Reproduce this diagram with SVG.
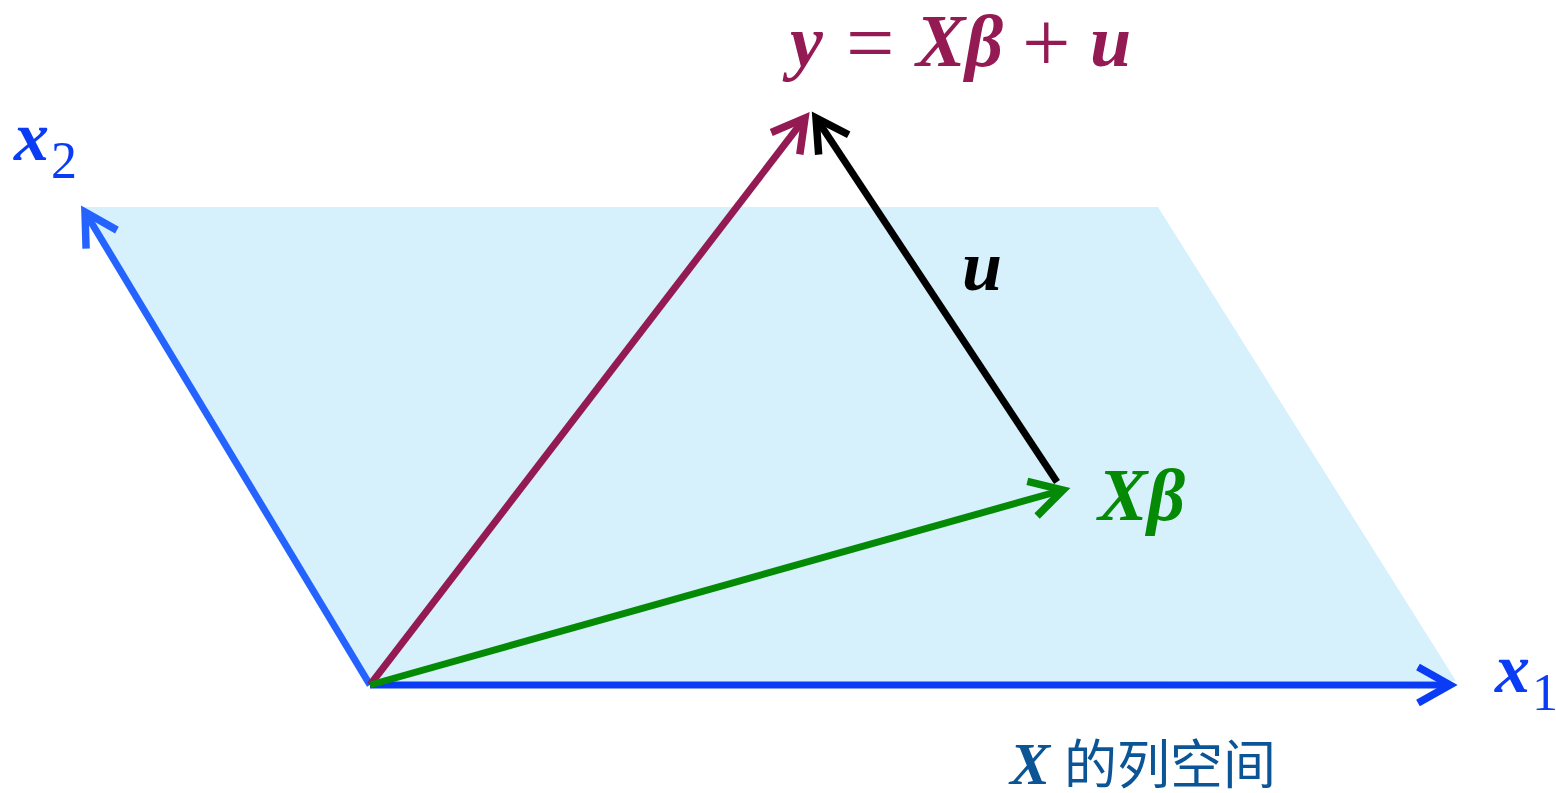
<svg xmlns="http://www.w3.org/2000/svg" width="1556" height="793" viewBox="0 0 1556 793">
<style>
.vec{fill:none;stroke-width:7;stroke-linecap:butt}
.m{font-family:"Liberation Serif","Times New Roman",serif;font-style:italic;font-weight:bold}
.sub{font-family:"Liberation Serif","Times New Roman",serif;font-style:normal;font-weight:normal}
.hd{fill:none;stroke-width:7.5;stroke-linejoin:miter}
</style>
<defs>
<marker id="hb" markerUnits="userSpaceOnUse" markerWidth="60" markerHeight="60" refX="0" refY="0" viewBox="-40 -30 50 60" orient="auto" overflow="visible"><path class="hd" d="M-32,-18 L0,0 L-32,18" stroke="#0a3cf5"/></marker>
<marker id="hb2" markerUnits="userSpaceOnUse" markerWidth="60" markerHeight="60" refX="0" refY="0" viewBox="-40 -30 50 60" orient="auto" overflow="visible"><path class="hd" d="M-32,-18 L0,0 L-32,18" stroke="#2563ff"/></marker>
<marker id="hm" markerUnits="userSpaceOnUse" markerWidth="60" markerHeight="60" refX="0" refY="0" viewBox="-40 -30 50 60" orient="auto" overflow="visible"><path class="hd" d="M-32,-18 L0,0 L-32,18" stroke="#931a52"/></marker>
<marker id="hk" markerUnits="userSpaceOnUse" markerWidth="60" markerHeight="60" refX="0" refY="0" viewBox="-40 -30 50 60" orient="auto" overflow="visible"><path class="hd" d="M-32,-18 L0,0 L-32,18" stroke="#000"/></marker>
<marker id="hg" markerUnits="userSpaceOnUse" markerWidth="60" markerHeight="60" refX="0" refY="0" viewBox="-40 -30 50 60" orient="auto" overflow="visible"><path class="hd" d="M-32,-18 L0,0 L-32,18" stroke="#058a05"/></marker>
</defs>
<rect width="1556" height="793" fill="#fff"/>
<g id="plane"><polygon points="84,207 1158,207 1456,681 370,684" fill="#d6f0fc"/></g>
<g id="connectors">
<line class="vec" x1="370" y1="685" x2="1450" y2="685" stroke="#0a3cf5" marker-end="url(#hb)"/>
<line class="vec" x1="370" y1="685" x2="85" y2="212" stroke="#2563ff" marker-end="url(#hb2)"/>
<line class="vec" x1="1057" y1="482" x2="816" y2="118" stroke="#000" marker-end="url(#hk)"/>
<line class="vec" x1="370" y1="685" x2="805" y2="118" stroke="#931a52" marker-end="url(#hm)"/>
<line class="vec" x1="370" y1="685" x2="1063" y2="490" stroke="#058a05" marker-end="url(#hg)"/>
</g>
<g id="label-y" fill="#931a52">
<text class="m" font-size="74" x="790" y="66">y</text>
<text class="sub" font-size="86" x="846" y="72">=</text>
<text class="m" font-size="74" x="916" y="66">Xβ</text>
<text class="sub" font-size="86" x="1022" y="72">+</text>
<text class="m" font-size="74" x="1090" y="66">u</text>
</g>
<g id="label-x2" fill="#0a3cf5"><text class="m" font-size="70" x="14" y="160">x</text><text class="sub" font-size="52" x="51" y="178">2</text></g>
<g id="label-x1" fill="#0a3cf5"><text class="m" font-size="70" x="1495" y="692">x</text><text class="sub" font-size="52" x="1532" y="710">1</text></g>
<g id="label-xb"><text class="m" font-size="74" fill="#058a05" x="1098" y="520">Xβ</text></g>
<g id="label-u"><text class="m" font-size="72" fill="#000" x="962" y="290">u</text></g>
<g id="label-space" fill="#0b5596"><text class="m" font-size="60" x="1010" y="784">X</text><text font-size="53" y="784" x="1064" font-family="'Noto Sans CJK SC',sans-serif">的列空间</text></g>
</svg>
